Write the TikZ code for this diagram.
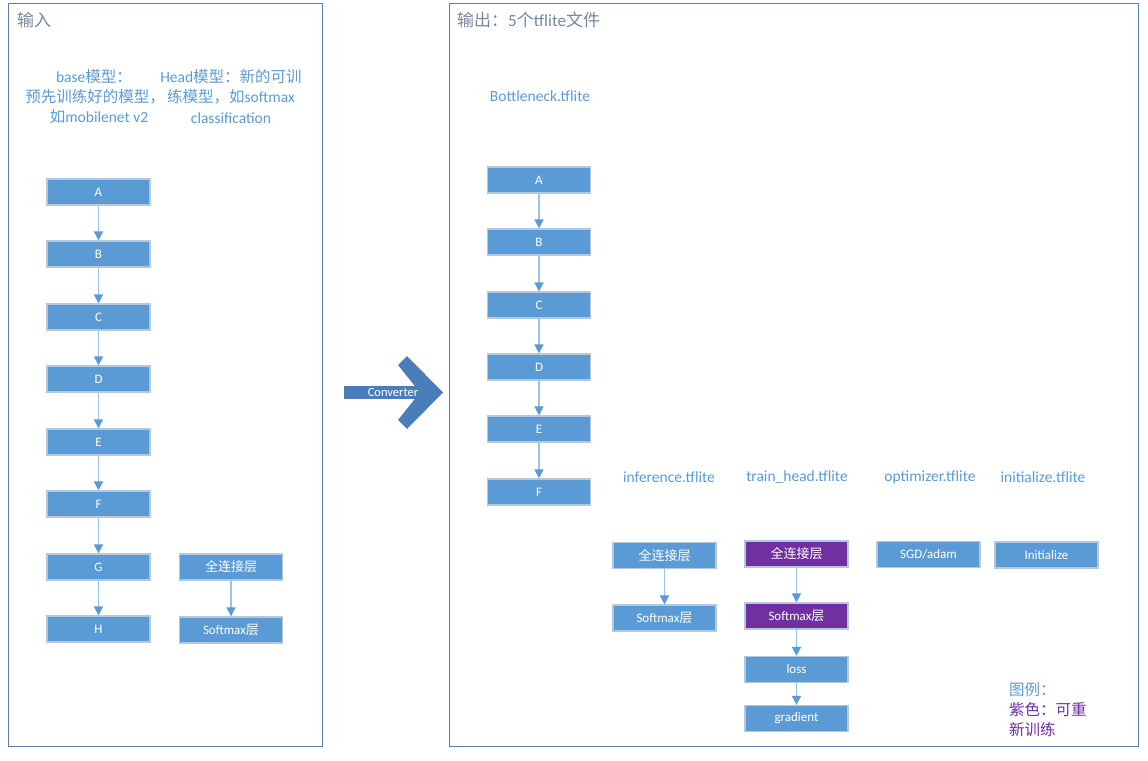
\documentclass[tikz,border=0pt]{standalone}
\usepackage{fontspec}
\setmainfont{Carlito}
\newfontfamily\cjk{Noto Sans CJK SC}
\usetikzlibrary{arrows.meta}
\definecolor{boxblue}{HTML}{5B9BD5}
\definecolor{boxedge}{HTML}{B4C7DC}
\definecolor{linkblue}{HTML}{9DC3E6}
\definecolor{panel}{HTML}{5A80B0}
\definecolor{titlegray}{HTML}{7488A0}
\definecolor{txtblue}{HTML}{5B9BD5}
\definecolor{purp}{HTML}{7030A0}
\definecolor{conv}{HTML}{4A7EBB}
\tikzset{
  x=1pt, y=-1pt,
  panelbox/.style={draw=panel, line width=1pt},
  blk/.style={draw=boxedge, line width=1.2pt, fill=boxblue, text=white,
     minimum width=103pt, minimum height=26pt, inner sep=0pt,
     font=\fontsize{13}{15}\selectfont},
  pblk/.style={blk, fill=purp},
  lbl/.style={text=txtblue, inner sep=0pt, font=\fontsize{15.5}{18}\selectfont},
  ttl/.style={text=titlegray, inner sep=0pt, anchor=west, font=\fontsize{17}{19}\selectfont},
  link/.style={draw=linkblue, line width=1.6pt, -{Triangle[length=9pt,width=9pt,color=boxblue]}}
}
\begin{document}
\begin{tikzpicture}
\useasboundingbox (0,0) rectangle (1148,760);
\fill[white] (0,0) rectangle (1148,760);
% panels
\draw[panelbox] (8,4) rectangle (322,746);
\draw[panelbox] (449,4) rectangle (1138,746);
\node[ttl] (tin) at (17,20) {{\cjk 输入}};
\node[ttl] (tout) at (457,20) {{\cjk 输出：}5{\cjk 个}tflite{\cjk 文件}};
% left texts
\node[lbl] (b1) at (94,77) {base{\cjk 模型：}};
\node[lbl] (b2) at (95,97) {{\cjk 预先训练好的模型，}};
\node[lbl] (b3) at (99,117) {{\cjk 如}mobilenet v2};
\node[lbl] (h1) at (231,77) {Head{\cjk 模型：新的可训}};
\node[lbl] (h2) at (231,97) {{\cjk 练模型，如}softmax};
\node[lbl] (h3) at (231,118) {classification};
% left chain
\foreach \n/\y in {A/192,B/254,C/317,D/379,E/442,F/504,G/567,H/629}
  \node[blk] (L\n) at (98.5,\y) {\n};
\foreach \a/\b in {A/B,B/C,C/D,D/E,E/F,F/G,G/H}
  \draw[link] (L\a) -- (L\b);
\node[blk, font=\cjk\fontsize{13}{15}\selectfont] (hfc) at (231,567) {全连接层};
\node[blk] (hsm) at (231,630) {Softmax{\cjk 层}};
\draw[link] (hfc) -- (hsm);
% converter arrow
\fill[conv] (344,386) rectangle (421,399);
\fill[conv] (407,356) -- (443,392.5) -- (407,429) -- (398,420) -- (420,392.5) -- (398,365) -- cycle;
\node[text=white, inner sep=0pt, font=\fontsize{12.5}{14}\selectfont] (cv) at (393,392.5) {Converter};
% right texts
\node[lbl] (bt) at (540,96) {Bottleneck.tflite};
\foreach \n/\y in {A/180,B/242,C/305,D/367,E/429,F/492}
  \node[blk] (R\n) at (539,\y) {\n};
\foreach \a/\b in {A/B,B/C,C/D,D/E,E/F}
  \draw[link] (R\a) -- (R\b);
\node[lbl] (t1) at (669,477) {inference.tflite};
\node[lbl] (t2) at (797,477) {train\_head.tflite};
\node[lbl] (t3) at (930,477) {optimizer.tflite};
\node[lbl] (t4) at (1043,477) {initialize.tflite};
% inference
\node[blk, font=\cjk\fontsize{13}{15}\selectfont] (ifc) at (664.5,555.5) {全连接层};
\node[blk] (ism) at (664.5,618) {Softmax{\cjk 层}};
\draw[link] (ifc) -- (ism);
% train head
\node[pblk, font=\cjk\fontsize{13}{15}\selectfont] (tfc) at (796.5,554) {全连接层};
\node[pblk] (tsm) at (796.5,616) {Softmax{\cjk 层}};
\node[blk] (tls) at (796.5,669.5) {loss};
\node[blk] (tgr) at (796.5,718.5) {gradient};
\draw[link] (tfc) -- (tsm);
\draw[link] (tsm) -- (tls);
\draw[link] (tls) -- (tgr);
% optimizer / initialize
\node[blk] (sgd) at (928.5,554.5) {SGD/adam};
\node[blk] (ini) at (1046.5,555) {Initialize};
% legend
\node[lbl, anchor=west, font=\cjk\fontsize{15.5}{18}\selectfont] (lg1) at (1009,690) {图例：};
\node[lbl, anchor=west, text=purp, font=\cjk\fontsize{15.5}{18}\selectfont] (lg2) at (1009,710) {紫色：可重};
\node[lbl, anchor=west, text=purp, font=\cjk\fontsize{15.5}{18}\selectfont] (lg3) at (1009,730) {新训练};
\end{tikzpicture}
\end{document}
